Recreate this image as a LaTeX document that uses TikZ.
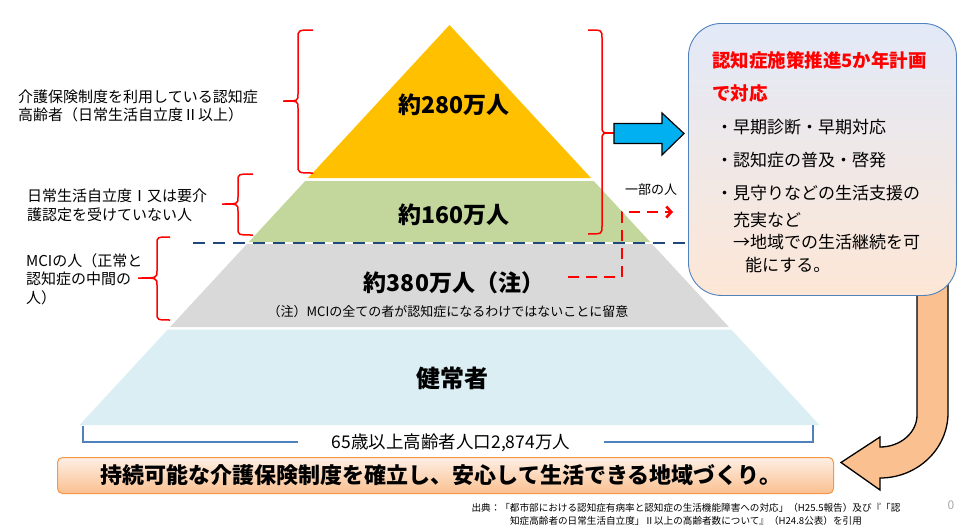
\documentclass[tikz,border=0pt]{standalone}
\usepackage{fontspec}
\setmainfont{Noto Sans CJK JP}
\usetikzlibrary{arrows.meta}
\definecolor{pyOrange}{HTML}{FFC000}
\definecolor{pyGreen}{HTML}{C3D69B}
\definecolor{pyGray}{HTML}{D9D9D9}
\definecolor{pyBlue}{HTML}{DAEEF3}
\definecolor{navyLine}{HTML}{1F497D}
\definecolor{arrowBlue}{HTML}{00B0F0}
\definecolor{boxLine}{HTML}{4F81BD}
\definecolor{boxTop}{HTML}{E2E9F8}
\definecolor{boxBot}{HTML}{FDE7D6}
\definecolor{banTop}{HTML}{FEEFE4}
\definecolor{banBot}{HTML}{FAC090}
\definecolor{banLine}{HTML}{F79646}
\definecolor{peach}{HTML}{FAC090}
\definecolor{pageNo}{HTML}{A6A6A6}
\tikzset{
  redbrace/.style={draw=red, line width=1.5pt},
  bluebrace/.style={draw=boxLine, line width=1.3pt},
  lbl/.style={inner sep=0pt, anchor=west, align=left, font=\fontsize{15}{18.5}\selectfont},
  big/.style={inner sep=0pt, font=\fontsize{23}{26}\selectfont\bfseries},
  boxtxt/.style={inner sep=0pt, anchor=west, font=\fontsize{17}{20}\selectfont},
  redtitle/.style={inner sep=0pt, anchor=west, text=red, font=\fontsize{18.5}{22}\selectfont\bfseries},
}
\begin{document}
\begin{tikzpicture}[x=1pt,y=-1pt]
\useasboundingbox (0,0) rectangle (975,530);
% pyramid layers
\fill[pyOrange] (449.5,25) -- (591,178) -- (308,178) -- cycle;
\fill[pyGreen] (305.2,181) -- (593.8,181) -- (650.2,242) -- (248.8,242) -- cycle;
\fill[pyGray] (246.9,244) -- (652.1,244) -- (728.9,327) -- (170.1,327) -- cycle;
\fill[pyBlue] (167.8,329.5) -- (731.2,329.5) -- (819.5,425) -- (79.5,425) -- cycle;
% pyramid texts
\node[big] (t280) at (454,105) {約280万人};
\node[big] (t160) at (454,215) {約160万人};
\node[big] (t380) at (454,283) {約380万人（注）};
\node[inner sep=0pt, font=\fontsize{13}{15}\selectfont] (note) at (448,312) {（注）MCIの全ての者が認知症になるわけではないことに留意};
\node[big, font=\fontsize{24}{26}\selectfont\bfseries] (healthy) at (452,378) {健常者};
% bottom blue brace
\draw[bluebrace] (83,426) -- (83,442) -- (298,442);
\draw[bluebrace] (604,442) -- (813,442) -- (813,425);
\node[inner sep=0pt, font=\fontsize{17.5}{20}\selectfont] (total) at (451,443) {65歳以上高齢者人口2,874万人};
% left labels
\node[lbl] (lab1) at (18,106) {介護保険制度を利用している認知症\\高齢者（日常生活自立度Ⅱ以上）};
\node[lbl] (lab2) at (27,205.5) {日常生活自立度Ⅰ又は要介\\護認定を受けていない人};
\node[lbl] (lab3) at (26,279) {MCIの人（正常と\\認知症の中間の\\人）};
% left red braces
\draw[redbrace] (313,30) .. controls (298,30) .. (298,38) -- (298,94) .. controls (298,101) .. (283,101)
  .. controls (298,101) .. (298,108) -- (298,165) .. controls (298,173) .. (313,173);
\draw[redbrace] (253,174) .. controls (238,174) .. (238,181) -- (238,197) .. controls (238,204) .. (222,204)
  .. controls (238,204) .. (238,211) -- (238,228) .. controls (238,235) .. (253,235);
\draw[redbrace] (170,237) .. controls (157,237) .. (157,244) -- (157,271) .. controls (157,278) .. (138,278)
  .. controls (157,278) .. (157,285) -- (157,313) .. controls (157,320) .. (170,320);
% right red brace
\draw[redbrace] (588,30) .. controls (602,30) .. (602,38) -- (602,126) .. controls (602,133) .. (614,133)
  .. controls (602,133) .. (602,140) -- (602,226) .. controls (602,234) .. (588,234);
% blue block arrow
\draw[fill=arrowBlue, draw=black, line width=1.2pt, line join=miter]
  (614,123.5) -- (662,123.5) -- (662,113) -- (684,133.5) -- (662,155) -- (662,143.5) -- (614,143.5) -- cycle;
% curved orange arrow
\draw[fill=peach, draw=black, line width=1.3pt, line join=miter]
  (917,260) -- (917,415) .. controls (917,432.7) and (900.4,447) .. (880,447) -- (880,437) -- (841,462.5)
  -- (880,490) -- (880,478) .. controls (917.5,478) and (948,448.9) .. (948,413) -- (948,260) -- cycle;
% plan box
\node[draw=boxLine, line width=0.9pt, rounded corners=33pt, top color=boxTop, bottom color=boxBot,
  minimum width=268pt, minimum height=272pt, inner sep=0pt, anchor=north west] (plan) at (688,23) {};
\node[redtitle] (title1) at (712,60) {認知症施策推進5か年計画};
\node[redtitle] (title2) at (712,93) {で対応};
\node[boxtxt] (b1) at (716,127) {・早期診断・早期対応};
\node[boxtxt] (b2) at (716,160) {・認知症の普及・啓発};
\node[boxtxt] (b3) at (716,193) {・見守りなどの生活支援の};
\node[boxtxt] (b4) at (733,220) {充実など};
\node[boxtxt] (b5) at (733,242) {→地域での生活継続を可};
\node[boxtxt] (b6) at (745,265) {能にする。};
% navy dashed line
\coordinate (navyL) at (193,243);
\draw[navyLine, line width=2.6pt, dash pattern=on 12pt off 8pt] (navyL) -- (navyL -| plan.west);
% red dashed connector
\coordinate (redS) at (568,277);
\coordinate (redM) at (622,212);
\coordinate (redE) at (673,212);
\draw[red, line width=2.6pt, dash pattern=on 11pt off 7pt, -{Straight Barb[length=5pt,width=11pt]}]
  (redS) -| (redM) -- (redE);
\node[inner sep=0pt, font=\fontsize{13}{15}\selectfont] (part) at (651,190) {一部の人};
% bottom banner
\node[draw=banLine, line width=1pt, rounded corners=5pt, top color=banTop, bottom color=banBot,
  minimum width=776pt, minimum height=36pt, inner sep=0pt, anchor=north west] (banner) at (57,457) {};
\node[inner sep=0pt, font=\fontsize{22}{24}\selectfont\bfseries] (bantxt) at (441,475)
  {持続可能な介護保険制度を確立し、安心して生活できる地域づくり。};
% source
\node[inner sep=0pt, align=center, font=\fontsize{9.6}{13}\selectfont] (src) at (686,514.5)
  {出典：「都市部における認知症有病率と認知症の生活機能障害への対応」（H25.5報告）及び『「認\\知症高齢者の日常生活自立度」Ⅱ以上の高齢者数について』（H24.8公表）を引用};
\node[inner sep=0pt, text=pageNo, font=\fontsize{12}{14}\selectfont] (pg) at (951,505) {0};
\end{tikzpicture}
\end{document}
